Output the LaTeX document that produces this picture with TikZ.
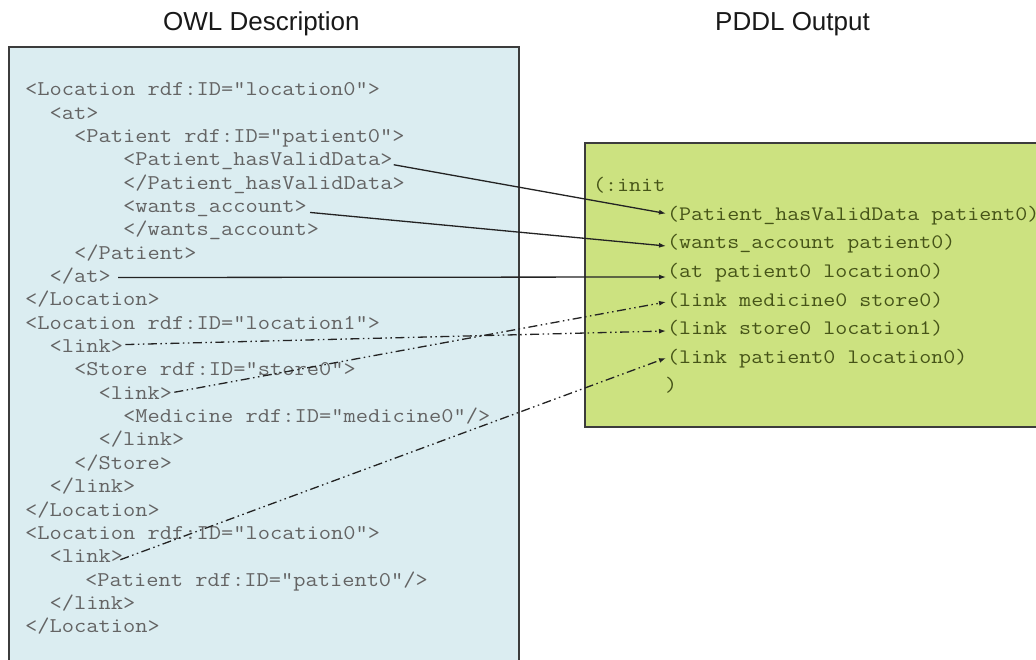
\documentclass[tikz,border=0pt]{standalone}
\usepackage{fontspec}
\setmainfont{Liberation Sans}
\newfontfamily\codefont[FakeStretch=1.132]{Latin Modern Mono}
\usetikzlibrary{arrows.meta,calc}
\definecolor{owlfill}{RGB}{219,237,241}
\definecolor{pddlfill}{RGB}{204,226,128}
\definecolor{boxline}{RGB}{60,60,60}
\definecolor{owltext}{RGB}{100,100,100}
\definecolor{pddltext}{RGB}{70,84,24}
\definecolor{wirecol}{RGB}{35,35,35}
\begin{document}
\begin{tikzpicture}[x=1pt,y=-1pt,
  panel/.style={draw=boxline,line width=1.5pt},
  owl/.style={anchor=west,inner sep=0pt,text height=14pt,text depth=4pt,
    font=\codefont\fontsize{21}{23}\selectfont,text=owltext},
  pddl/.style={owl,font=\codefont\fontsize{20.6}{23}\selectfont,text=pddltext},
  heading/.style={anchor=base west,inner sep=0pt,font=\fontsize{26}{30}\selectfont,text=black!90},
  wire/.style={draw=wirecol,line width=1.3pt,-{Latex[length=7pt,width=5pt]}},
  dashdotdot/.style={wire,dash pattern=on 9pt off 3.5pt on 1.5pt off 3.5pt on 1.5pt off 3.5pt}
]
\useasboundingbox (0,0) rectangle (1036,660);
\clip (0,0) rectangle (1036,660);
\fill[white] (0,0) rectangle (1036,660);

% headings
\node[heading] (hOwl) at (163,31) {OWL Description};
\node[heading] (hPddl) at (715,31) {PDDL Output};

% panels
\draw[panel,fill=owlfill] (9,47) rectangle (519,690);
\draw[panel,fill=pddlfill] (585,143) rectangle (1070,427);

% OWL source
\node[owl] (o0)  at (25,90.7)    {<Location rdf:ID="location0">};
\node[owl] (o1)  at (49.5,114.05) {<at>};
\node[owl] (o2)  at (74,137.4)   {<Patient rdf:ID="patient0">};
\node[owl] (o3)  at (123,160.75) {<Patient\_hasValidData>};
\node[owl] (o4)  at (123,184.1)  {</Patient\_hasValidData>};
\node[owl] (o5)  at (123,207.45) {<wants\_account>};
\node[owl] (o6)  at (123,230.8)  {</wants\_account>};
\node[owl] (o7)  at (74,254.15)  {</Patient>};
\node[owl] (o8)  at (49.5,277.5) {</at>};
\node[owl] (o9)  at (25,300.85)  {</Location>};
\node[owl] (o10) at (25,324.2)   {<Location rdf:ID="location1">};
\node[owl] (o11) at (49.5,347.55) {<link>};
\node[owl] (o12) at (74,370.9)   {<Store rdf:ID="store0">};
\node[owl] (o13) at (98.5,394.25) {<link>};
\node[owl] (o14) at (123,417.6)  {<Medicine rdf:ID="medicine0"/>};
\node[owl] (o15) at (98.5,440.95) {</link>};
\node[owl] (o16) at (74,464.3)   {</Store>};
\node[owl] (o17) at (49.5,487.65) {</link>};
\node[owl] (o18) at (25,511)     {</Location>};
\node[owl] (o19) at (25,534.35)  {<Location rdf:ID="location0">};
\node[owl] (o20) at (49.5,557.7) {<link>};
\node[owl] (o21) at (85,581.05)  {<Patient rdf:ID="patient0"/>};
\node[owl] (o22) at (49.5,604.4) {</link>};
\node[owl] (o23) at (25,627.75)  {</Location>};

% PDDL initial state
\node[pddl] (p0) at (593,187)   {(:init};
\node[pddl] (p1) at (667,215.5) {(Patient\_hasValidData patient0)};
\node[pddl] (p2) at (667,244)   {(wants\_account patient0)};
\node[pddl] (p3) at (667,272.5) {(at patient0 location0)};
\node[pddl] (p4) at (667,301)   {(link medicine0 store0)};
\node[pddl] (p5) at (667,329.5) {(link store0 location1)};
\node[pddl] (p6) at (667,358)   {(link patient0 location0)};
\node[pddl] (p7) at (665,386.5) {)};

% property mappings
\draw[wire] ($(o3.east)+(1,4)$) -- ($(p1.west)+(-1,-2)$);
\draw[wire] ($(o5.east)+(3,5)$) -- ($(p2.west)+(-1,2)$);
\draw[wire] ($(o8.east)+(7,0)$) -- ($(p3.west)+(-1,4.5)$);
% link relations
\draw[dashdotdot] ($(o13.east)+(2,-2)$) -- ($(p4.west)+(-1,1)$);
\draw[dashdotdot] ($(o11.east)+(2,-3)$) -- ($(p5.west)+(-1,1.5)$);
\draw[dashdotdot] ($(o20.east)+(-3,2)$) -- ($(p6.west)+(-1,0)$);
\end{tikzpicture}
\end{document}
